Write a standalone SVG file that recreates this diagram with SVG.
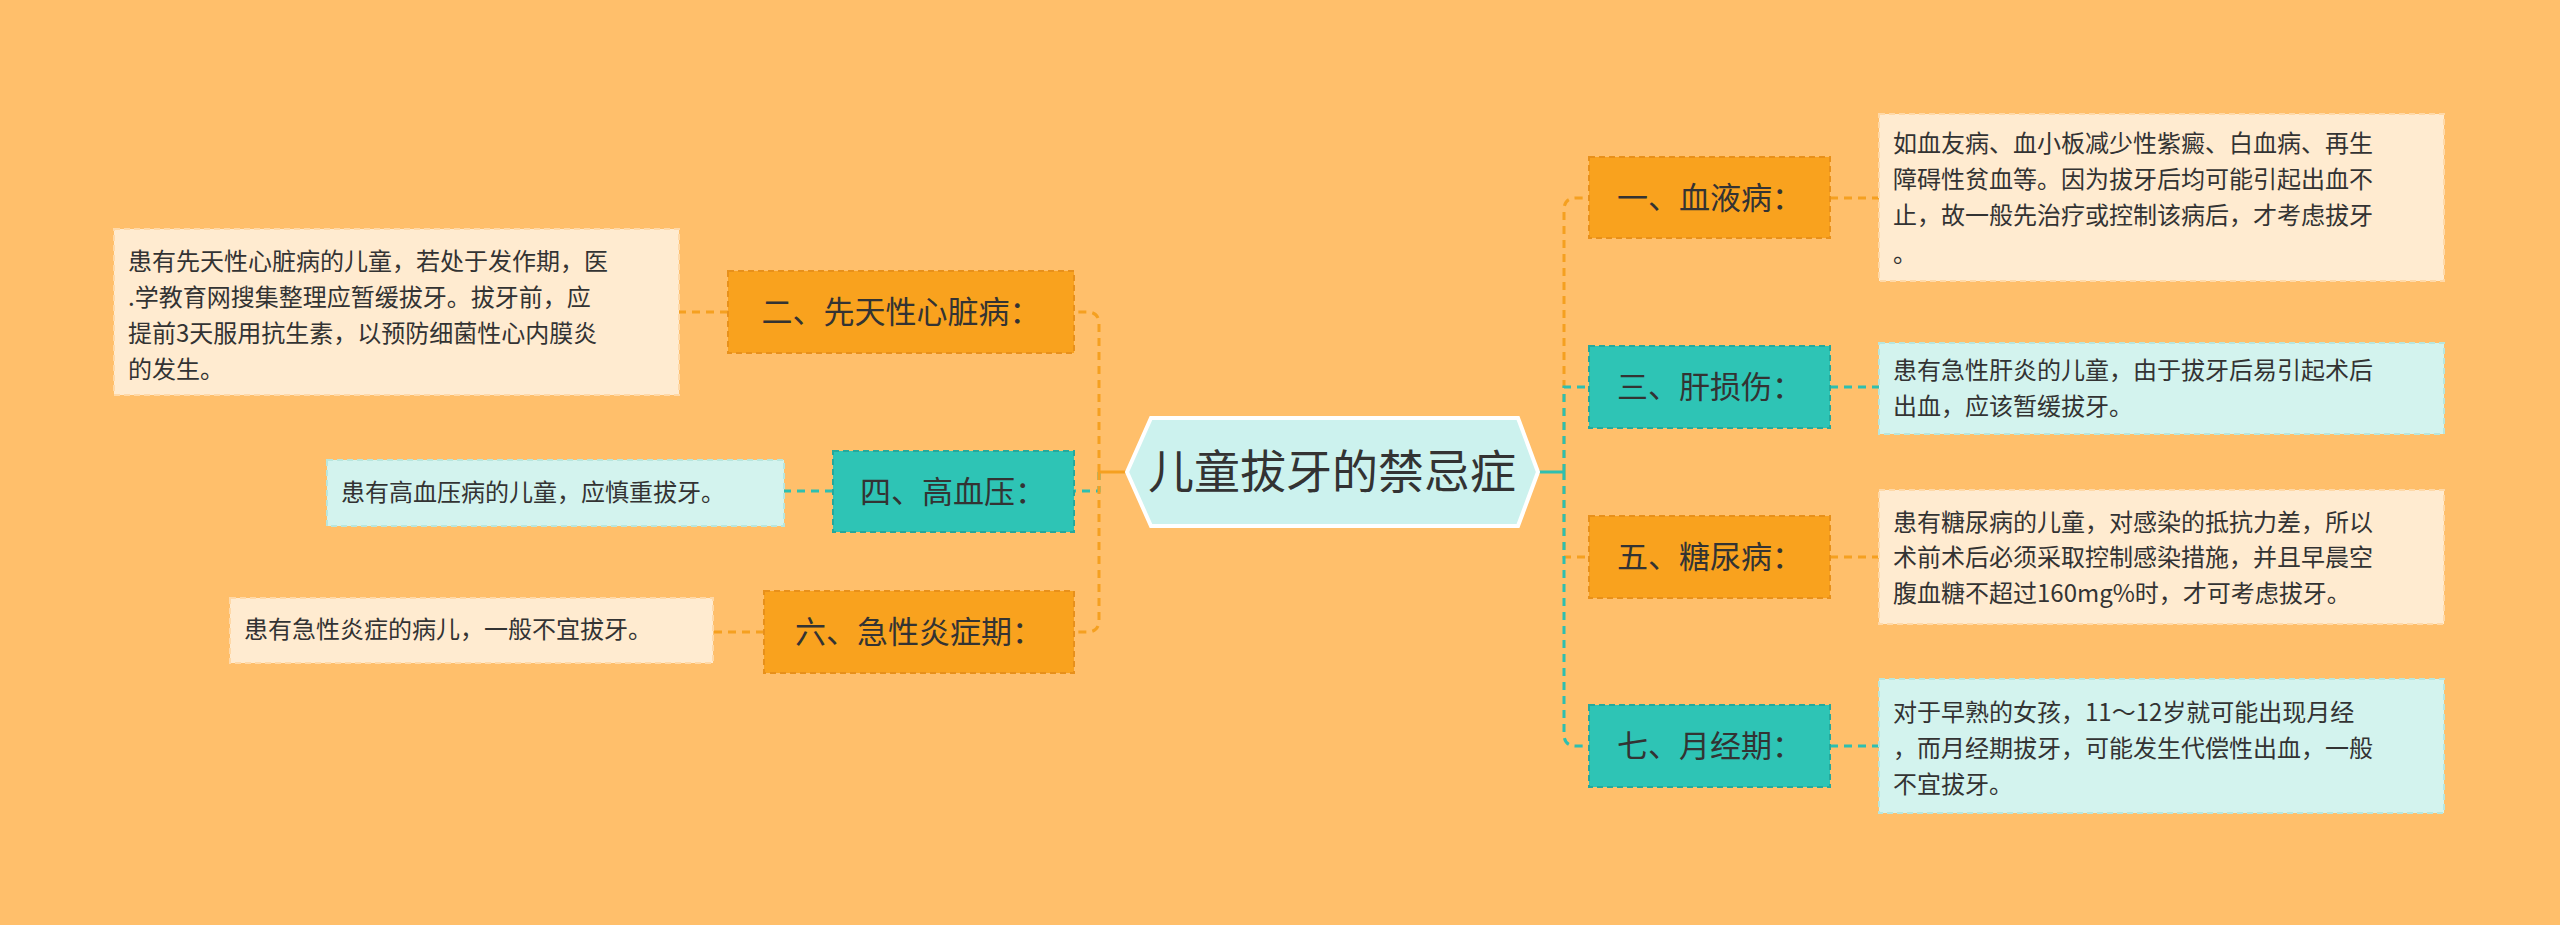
<svg xmlns="http://www.w3.org/2000/svg" width="2560" height="925" viewBox="0 0 2560 925">
<style>
text{font-family:"Noto Sans CJK SC","Liberation Sans",sans-serif;fill:#333}
.on{fill:#F9A21E;stroke:#E8901A;stroke-width:2;stroke-dasharray:6 4}
.tn{fill:#2EC4B5;stroke:#25A99C;stroke-width:2;stroke-dasharray:6 4}
.lc{fill:#FFEBD0;stroke:#FFD9A8;stroke-width:2;stroke-dasharray:6 4}
.lt{fill:#D3F3EE;stroke:#B8E6DE;stroke-width:2;stroke-dasharray:6 4}
.n{font-size:31px}
.l{font-size:24px}
.co{fill:none;stroke:#F5A020;stroke-width:3;stroke-dasharray:8 6}
.ct{fill:none;stroke:#2EBFB0;stroke-width:3;stroke-dasharray:8 6}
</style>
<rect width="2560" height="925" fill="#FFBF6B"/>
<g id="connectors">
<path class="co" d="M1564 472 V210 Q1564 198 1576 198 H1589"/>
<path class="ct" d="M1564 472 V387 H1589"/>
<path class="co" d="M1564 472 V557 H1589"/>
<path class="ct" d="M1564 472 V734 Q1564 746 1576 746 H1589"/>
<path d="M1538 472 H1564" stroke="#2EBFB0" stroke-width="3"/>
<path class="co" d="M1099 472 V324 Q1099 312 1087 312 H1074"/>
<path class="ct" d="M1099 472 V491 H1074"/>
<path class="co" d="M1099 472 V620 Q1099 632 1087 632 H1074"/>
<path d="M1127 472 H1099" stroke="#F5A020" stroke-width="3"/>
<path class="co" d="M1830 198 H1879"/>
<path class="ct" d="M1830 387 H1879"/>
<path class="co" d="M1830 557 H1879"/>
<path class="ct" d="M1830 746 H1879"/>
<path class="co" d="M728 312 H679"/>
<path class="ct" d="M833 491 H784"/>
<path class="co" d="M764 632 H713"/>
</g>
<g id="root">
<polygon points="1127,472 1151,418 1518,418 1538,472 1518,526 1151,526" fill="#CCF2EE" stroke="#fff" stroke-width="4"/>
<text x="1332" y="488" font-size="46" text-anchor="middle">儿童拔牙的禁忌症</text>
</g>
<g id="n1"><rect class="on" x="1589" y="157" width="241" height="81"/><text class="n" x="1710" y="209" text-anchor="middle">一、血液病：</text></g>
<g id="n3"><rect class="tn" x="1589" y="346" width="241" height="82"/><text class="n" x="1710" y="398" text-anchor="middle">三、肝损伤：</text></g>
<g id="n5"><rect class="on" x="1589" y="516" width="241" height="82"/><text class="n" x="1710" y="568" text-anchor="middle">五、糖尿病：</text></g>
<g id="n7"><rect class="tn" x="1589" y="705" width="241" height="82"/><text class="n" x="1710" y="757" text-anchor="middle">七、月经期：</text></g>
<g id="n2"><rect class="on" x="728" y="271" width="346" height="82"/><text class="n" x="901" y="323" text-anchor="middle">二、先天性心脏病：</text></g>
<g id="n4"><rect class="tn" x="833" y="451" width="241" height="81"/><text class="n" x="953" y="503" text-anchor="middle">四、高血压：</text></g>
<g id="n6"><rect class="on" x="764" y="591" width="310" height="82"/><text class="n" x="919" y="643" text-anchor="middle">六、急性炎症期：</text></g>
<g id="l1"><rect class="lc" x="1879" y="114" width="565" height="167"/>
<text class="l" x="1893"><tspan y="152">如血友病、血小板减少性紫癜、白血病、再生</tspan><tspan x="1893" y="188">障碍性贫血等。因为拔牙后均可能引起出血不</tspan><tspan x="1893" y="224">止，故一般先治疗或控制该病后，才考虑拔牙</tspan><tspan x="1893" y="262">。</tspan></text></g>
<g id="l3"><rect class="lt" x="1879" y="343" width="565" height="91"/>
<text class="l" x="1893"><tspan y="379">患有急性肝炎的儿童，由于拔牙后易引起术后</tspan><tspan x="1893" y="415">出血，应该暂缓拔牙。</tspan></text></g>
<g id="l5"><rect class="lc" x="1879" y="490" width="565" height="134"/>
<text class="l" x="1893"><tspan y="531">患有糖尿病的儿童，对感染的抵抗力差，所以</tspan><tspan x="1893" y="566">术前术后必须采取控制感染措施，并且早晨空</tspan><tspan x="1893" y="602">腹血糖不超过160mg%时，才可考虑拔牙。</tspan></text></g>
<g id="l7"><rect class="lt" x="1879" y="679" width="565" height="134"/>
<text class="l" x="1893"><tspan y="721">对于早熟的女孩，11～12岁就可能出现月经</tspan><tspan x="1893" y="757">，而月经期拔牙，可能发生代偿性出血，一般</tspan><tspan x="1893" y="793">不宜拔牙。</tspan></text></g>
<g id="l2"><rect class="lc" x="114" y="229" width="565" height="166"/>
<text class="l" x="128"><tspan y="270">患有先天性心脏病的儿童，若处于发作期，医</tspan><tspan x="128" y="306">.学教育网搜集整理应暂缓拔牙。拔牙前，应</tspan><tspan x="128" y="342">提前3天服用抗生素，以预防细菌性心内膜炎</tspan><tspan x="128" y="378">的发生。</tspan></text></g>
<g id="l4"><rect class="lt" x="327" y="460" width="457" height="66"/>
<text class="l" x="341" y="501">患有高血压病的儿童，应慎重拔牙。</text></g>
<g id="l6"><rect class="lc" x="230" y="598" width="483" height="65"/>
<text class="l" x="244" y="638">患有急性炎症的病儿，一般不宜拔牙。</text></g>
</svg>
